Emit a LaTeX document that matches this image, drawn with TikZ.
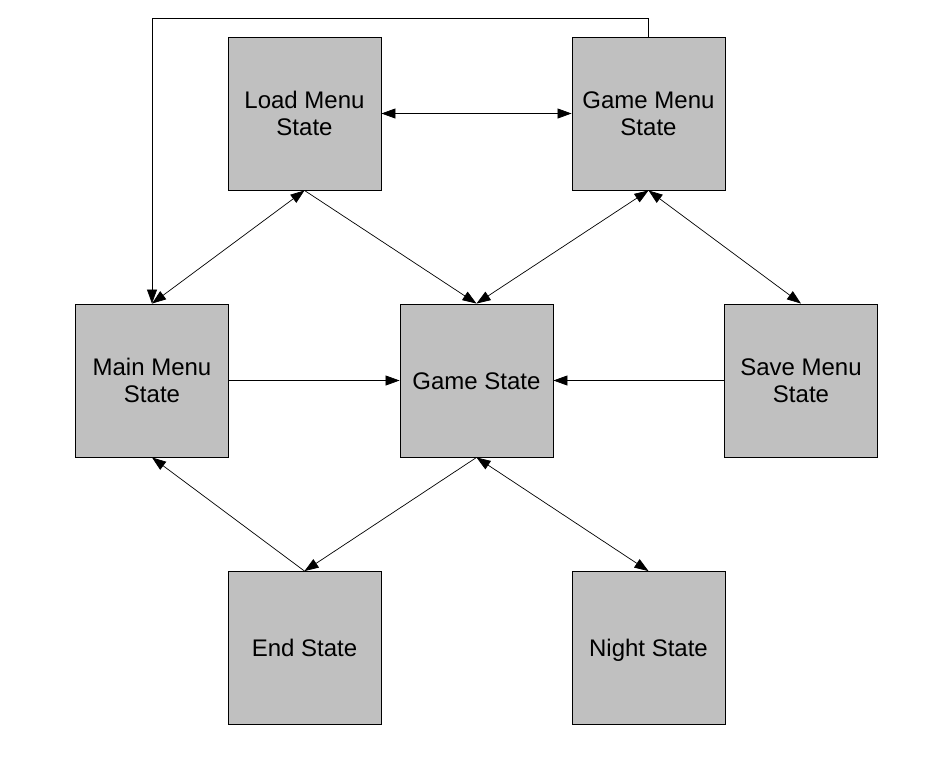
\documentclass[tikz,border=0pt]{standalone}
\usepackage{fontspec}
\setmainfont{Liberation Sans}
\usetikzlibrary{positioning, arrows.meta}
\definecolor{boxgray}{RGB}{192,192,192}
\tikzset{
  x=1pt, y=-1pt,
  state/.style={
      rectangle,
      draw,
      line width=0.9pt,
      fill=boxgray,
      minimum height=153pt,
      minimum width=153pt,
      inner sep=0pt,
      align=center,
      font=\fontsize{24}{27}\selectfont
    },
  oneline/.style={
      state,
      text height=17pt,
      text depth=0pt
    },
  arr/.style={
      -{Triangle[length=14pt,width=10pt]},
      line width=0.7pt
    },
  darr/.style={
      {Triangle[length=14pt,width=10pt]}-{Triangle[length=14pt,width=10pt]},
      line width=0.7pt
    }
}
\begin{document}
\begin{tikzpicture}
  \useasboundingbox (0,0) rectangle (951,756);
  \node[state] (loadmenu) at (304.5,113.5) {Load Menu\\State};
  \node[state] (gamemenu) at (648.5,113.5) {Game Menu\\State};
  \node[state] (mainmenu) at (152,380.5) {Main Menu\\State};
  \node[oneline] (game) at (476.5,380.5) {Game State};
  \node[state] (savemenu) at (801,380.5) {Save Menu\\State};
  \node[oneline] (endst) at (304.5,648) {End State};
  \node[oneline] (night) at (648.5,648) {Night State};
  \coordinate (topright) at (648.5,18);
  \coordinate (topleft) at (152,18);
  \draw[darr] (loadmenu) -- (gamemenu);
  \draw[arr] (gamemenu.north) -- (topright) -- (topleft) -- (mainmenu.north);
  \draw[darr] (loadmenu.south) -- (mainmenu.north);
  \draw[arr] (loadmenu.south) -- (game.north);
  \draw[darr] (gamemenu.south) -- (game.north);
  \draw[darr] (gamemenu.south) -- (savemenu.north);
  \draw[arr] (mainmenu) -- (game);
  \draw[arr] (savemenu) -- (game);
  \draw[arr] (endst.north) -- (mainmenu.south);
  \draw[arr] (game.south) -- (endst.north);
  \draw[darr] (game.south) -- (night.north);
\end{tikzpicture}
\end{document}
